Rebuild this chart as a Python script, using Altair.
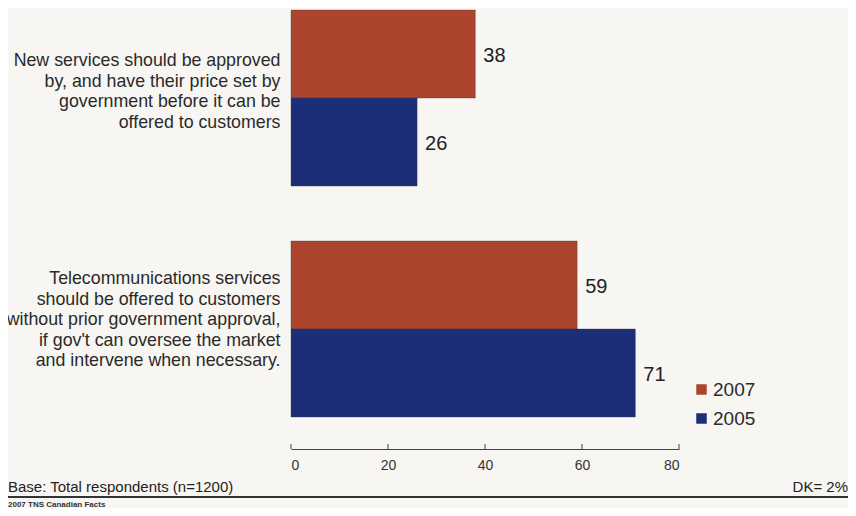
import altair as alt
import pandas as pd

questions = [
    "New services should be approved|by, and have their price set by|government before it can be|offered to customers",
    "Telecommunications services|should be offered to customers|without prior government approval,|if gov't can oversee the market|and intervene when necessary.",
]
years = ["2007", "2005"]
values_2007 = [38, 59]
values_2005 = [26, 71]
x_ticks = [0, 20, 40, 60, 80]
colors = ["#AD442E", "#1C2E78"]

rows = []
for q, a, b in zip(questions, values_2007, values_2005):
    rows.append({"question": q, "year": "2007", "value": a})
    rows.append({"question": q, "year": "2005", "value": b})
df = pd.DataFrame(rows)

FONT = "Liberation Sans"

y_enc = alt.Y(
    "question:N",
    sort=questions,
    scale=alt.Scale(paddingInner=0.238, paddingOuter=0.0736, align=0.06),
    axis=alt.Axis(
        title=None, domain=False, ticks=False, labelPadding=11,
        labelFontSize=17.8, labelLineHeight=20.5, labelColor="#2a2a2a",
        labelFont=FONT, labelLimit=400,
        labelOffset={"condition": {"test": "indexof(datum.value, 'New') === 0", "value": -37}, "value": -50},
        labelExpr="split(datum.label, '|')",
    ),
)
yoff = alt.YOffset("year:N", sort=years)
x_enc = alt.X(
    "value:Q",
    scale=alt.Scale(domain=[0, 80]),
    axis=alt.Axis(
        title=None, values=x_ticks, ticks=False, grid=False,
        domainColor="#444444", domainWidth=1, labelFontSize=14,
        labelColor="#333333", labelFont=FONT, labelPadding=9,
    ),
)

bars = alt.Chart(df).mark_bar(stroke="#3a3a3a", strokeWidth=0.6, strokeOpacity=0.6).encode(
    y=y_enc,
    yOffset=yoff,
    x=x_enc,
    color=alt.Color(
        "year:N",
        sort=years,
        scale=alt.Scale(domain=years, range=colors),
        legend=alt.Legend(
            title=None, orient="none", legendX=401, legendY=372,
            symbolType="square", symbolSize=110, symbolStrokeWidth=0,
            labelFontSize=19, labelFont=FONT, labelColor="#2a2a2a",
            rowPadding=9, padding=0, labelOffset=2,
        ),
    ),
)

labels = alt.Chart(df).mark_text(
    align="left", baseline="middle", dx=8, dy=2, fontSize=20, font=FONT, color="#222222"
).encode(
    y=alt.Y("question:N", sort=questions),
    yOffset=yoff,
    x="value:Q",
    text="value:Q",
)

ticks = alt.Chart(pd.DataFrame({"t": x_ticks})).mark_rule(color="#444444", strokeWidth=1).encode(
    x="t:Q", y=alt.value(436), y2=alt.value(441)
)

base_txt = alt.Chart(pd.DataFrame({"t": ["Base: Total respondents (n=1200)"]})).mark_text(
    align="left", baseline="middle", fontSize=15, font=FONT, color="#222222"
).encode(text="t:N", x=alt.value(-283), y=alt.value(479))

dk_txt = alt.Chart(pd.DataFrame({"t": ["DK= 2%"]})).mark_text(
    align="right", baseline="middle", fontSize=15, font=FONT, color="#222222"
).encode(text="t:N", x=alt.value(557), y=alt.value(479))

line = alt.Chart(pd.DataFrame({"a": [0]})).mark_rule(color="#333333", strokeWidth=2).encode(
    x=alt.value(-283), x2=alt.value(557), y=alt.value(489)
)

src_txt = alt.Chart(pd.DataFrame({"t": ["2007 TNS Canadian Facts"]})).mark_text(
    align="left", baseline="middle", fontSize=8, font=FONT, color="#333333", fontWeight="bold"
).encode(text="t:N", x=alt.value(-283), y=alt.value(497))

chart = alt.layer(bars, labels, ticks, base_txt, dk_txt, line, src_txt).properties(
    width=388,
    height=441,
    autosize=alt.AutoSizeParams(type="none"),
    padding={"left": 283, "top": 0, "right": 169, "bottom": 59},
    background="#F7F6F2",
).configure_view(stroke=None)

chart.save("out.html", embed_options={"renderer": "svg", "actions": False})
